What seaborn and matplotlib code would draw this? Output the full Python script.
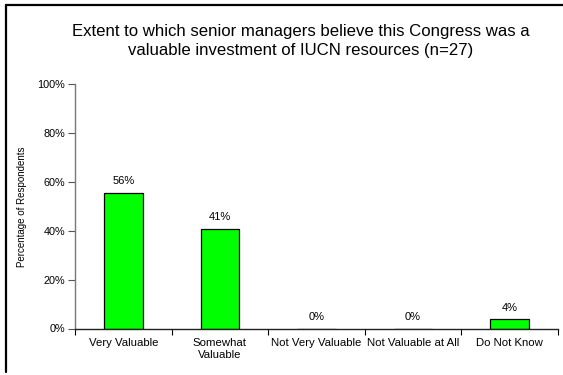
import matplotlib
matplotlib.use("Agg")
import matplotlib.pyplot as plt
from matplotlib.lines import Line2D
from matplotlib.ticker import FixedLocator, PercentFormatter
import seaborn as sns
import pandas as pd

categories = ["Very Valuable", "Somewhat\nValuable", "Not Very Valuable",
              "Not Valuable at All", "Do Not Know"]
percentages = [55.6, 40.7, 0.0, 0.0, 3.7]
value_labels = ["56%", "41%", "0%", "0%", "4%"]
y_ticks = [0, 20, 40, 60, 80, 100]

sns.set_style("white")
plt.rcParams["font.family"] = ["Liberation Sans", "DejaVu Sans"]
plt.rcParams["text.color"] = "black"
plt.rcParams["axes.labelcolor"] = "black"
plt.rcParams["xtick.color"] = "black"
plt.rcParams["ytick.color"] = "black"

df = pd.DataFrame({"category": categories, "pct": percentages})

W, H = 563, 375
fig = plt.figure(figsize=(W / 100, H / 100), dpi=100)
ax = fig.add_axes([75 / W, 1 - 328.5 / H, (558 - 75) / W, (328.5 - 84.3) / H])

sns.barplot(data=df, x="category", y="pct", color="#00FF00", saturation=1,
            edgecolor="black", linewidth=0.9, width=0.40, ax=ax)

ax.set_ylim(0, 100)
ax.set_xlim(-0.5, len(categories) - 0.5)
ax.yaxis.set_major_locator(FixedLocator(y_ticks))
ax.yaxis.set_major_formatter(PercentFormatter(decimals=0))
ax.tick_params(axis="y", labelsize=7.8, length=5, width=0.8, color="#555555",
               labelcolor="black", direction="out", pad=2, left=True)
ax.tick_params(axis="x", which="major", length=0, labelsize=8.2, pad=7,
               labelcolor="black")
ax.set_xticks([i + 0.5 for i in range(-1, len(categories))], minor=True)
ax.tick_params(axis="x", which="minor", length=4, width=0.8, color="black",
               direction="out", bottom=True)

for side in ("top", "right"):
    ax.spines[side].set_visible(False)
ax.spines["left"].set_color("#777777")
ax.spines["left"].set_linewidth(1.0)
ax.spines["bottom"].set_color("#222222")
ax.spines["bottom"].set_linewidth(1.0)

ax.set_xlabel("")
ax.set_ylabel("Percentage of Respondents", fontsize=7, color="black")
ax.yaxis.set_label_coords((27 - 75) / (558 - 75), 0.5)

for i, (v, lab) in enumerate(zip(percentages, value_labels)):
    ax.annotate(lab, (i, v), xytext=(0, 5), textcoords="offset points",
                ha="center", va="bottom", fontsize=8, color="black")

fig.text(301 / W, 1 - 41 / H,
         "Extent to which senior managers believe this Congress was a\n"
         "valuable investment of IUCN resources (n=27)",
         ha="center", va="center", fontsize=12.1, linespacing=1.35,
         color="black")

# chart frame
fig.add_artist(Line2D([6 / W, 6 / W], [1 - 5 / H, 1 - 372 / H],
                      color="black", linewidth=1.6, transform=fig.transFigure))
fig.add_artist(Line2D([6 / W, 1.0], [1 - 5 / H, 1 - 5 / H],
                      color="black", linewidth=1.6, transform=fig.transFigure))

fig.savefig("out.png", dpi=100)
